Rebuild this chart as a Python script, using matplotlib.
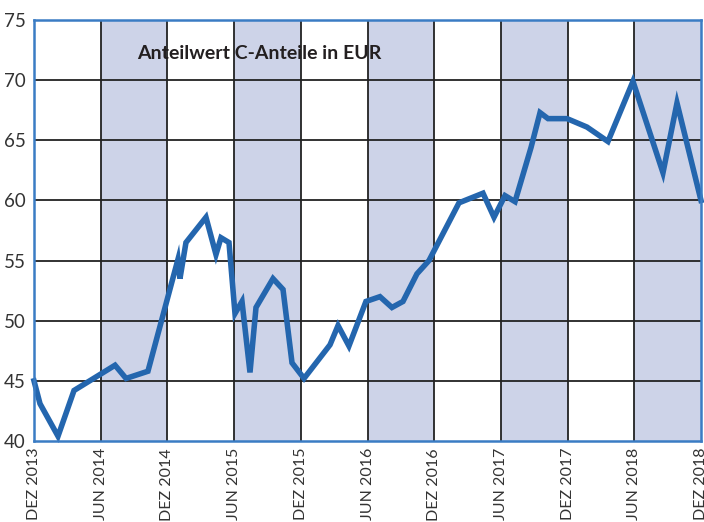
import matplotlib.pyplot as plt
import numpy as np

# Monate seit DEZ 2013 und Anteilwert in EUR
monate = [0, 0.54, 2.16, 3.6, 7.29, 8.28, 10.25, 12.95, 13.13, 13.67, 15.47,
          16.37, 16.82, 17.54, 18.08, 18.71, 19.43, 19.97, 21.5, 22.4, 23.21,
          24.29, 26.63, 27.35, 28.33, 29.86, 31.12, 32.2, 33.19, 34.45, 35.53,
          38.23, 40.39, 41.38, 42.37, 43.27, 44.71, 45.52, 46.24, 47.95, 49.74,
          51.63, 53.88, 56.58, 57.84, 60]
werte = [45.0, 43.1, 40.4, 44.2, 46.3, 45.2, 45.8, 55.1, 53.5, 56.5, 58.6,
         55.5, 56.9, 56.5, 50.6, 51.6, 45.7, 51.1, 53.5, 52.6, 46.5,
         45.2, 48.0, 49.6, 47.9, 51.6, 52.0, 51.1, 51.6, 53.9, 55.0,
         59.8, 60.6, 58.6, 60.4, 59.9, 64.4, 67.3, 66.8, 66.8, 66.1,
         64.9, 69.9, 62.3, 68.1, 60.0]

tick_labels = ["DEZ 2013", "JUN 2014", "DEZ 2014", "JUN 2015", "DEZ 2015",
               "JUN 2016", "DEZ 2016", "JUN 2017", "DEZ 2017", "JUN 2018",
               "DEZ 2018"]
y_ticks = [40, 45, 50, 55, 60, 65, 70, 75]

plt.rcParams['font.family'] = ['Lato', 'DejaVu Sans']

fig = plt.figure(figsize=(7.04, 5.22), dpi=100)
ax = fig.add_axes([34 / 704, 81 / 522, 667 / 704, 421 / 522])

x_ticks = np.arange(len(tick_labels)) * 6
# graue Bänder JUN-DEZ
for start in x_ticks[1::2]:
    ax.axvspan(start, start + 6, color='#cdd3e8', zorder=0, lw=0)

for xt in x_ticks[1:-1]:
    ax.axvline(xt, color='#222222', lw=1.3, zorder=1)
for yt in y_ticks[1:-1]:
    ax.axhline(yt, color='#222222', lw=1.3, zorder=1)

ax.plot(monate, werte, color='#2466ae', lw=4, solid_joinstyle='miter',
        zorder=3, clip_on=False)

ax.set_xlim(0, 60)
ax.set_ylim(40, 75)
ax.set_xticks(x_ticks)
ax.set_xticklabels(tick_labels, rotation=90, va='top', ha='center')
ax.set_yticks(y_ticks)
ax.tick_params(length=0, labelsize=13.5, colors='#333333', pad=6)
ax.tick_params(axis='x', labelsize=11.5, pad=5)

for s in ax.spines.values():
    s.set_color('#3a7cc4')
    s.set_linewidth(1.8)
    s.set_zorder(4)

ax.text(0.155, 0.92, "Anteilwert C-Anteile in EUR", transform=ax.transAxes,
        fontsize=14, fontweight='bold', color='#231f20', va='center', ha='left')

fig.savefig('out.png', dpi=100)
